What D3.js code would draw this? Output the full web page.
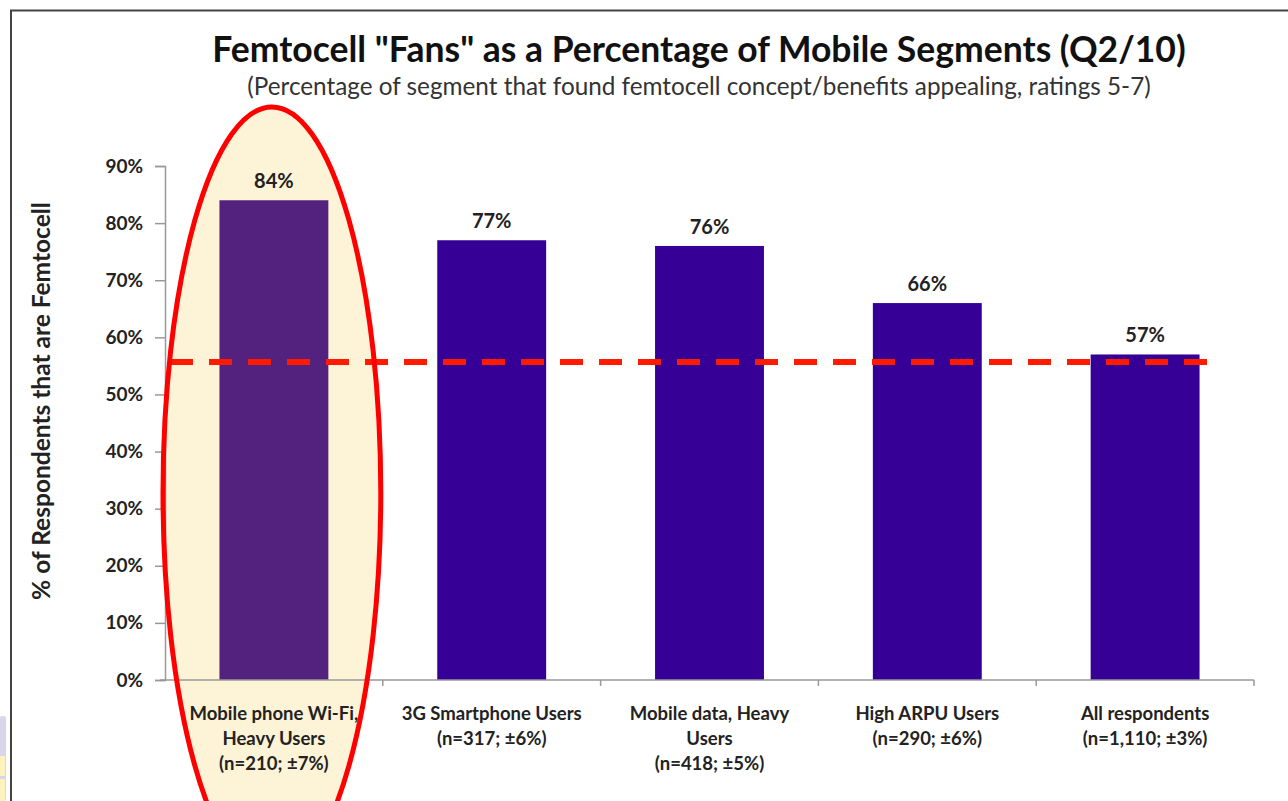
<!DOCTYPE html>
<html>
<head>
<meta charset="utf-8">
<script src="https://cdn.jsdelivr.net/npm/d3@7"></script>
<style>
  html, body { margin: 0; padding: 0; background: #fff; }
  svg { display: block; font-family: Lato, "Open Sans", sans-serif; }
</style>
</head>
<body>
<svg id="chart" width="1288" height="801"></svg>
<script>
// Segments (label lines separated by \n) and share of "fans" in each
const categories = [
  "Mobile phone Wi-Fi,\nHeavy Users\n(n=210; ±7%)",
  "3G Smartphone Users\n(n=317; ±6%)",
  "Mobile data, Heavy\nUsers\n(n=418; ±5%)",
  "High ARPU Users\n(n=290; ±6%)",
  "All respondents\n(n=1,110; ±3%)"
];
const values = [84, 77, 76, 66, 57];
const yTicks = [0, 10, 20, 30, 40, 50, 60, 70, 80, 90];
const referenceLevel = 55.7;       // dashed benchmark line
const highlighted = categories[0]; // circled segment

const svg = d3.select("#chart");

const plot = { left: 165, right: 1254, top: 166, bottom: 680 };

const x = d3.scaleBand()
  .domain(categories)
  .range([plot.left, plot.right])
  .paddingInner(0.5)
  .paddingOuter(0.25);

const y = d3.scaleLinear()
  .domain([0, 90])
  .range([plot.bottom, plot.top]);

// Page frame
svg.append("line").attr("x1", 10).attr("x2", 1288).attr("y1", 10.5).attr("y2", 10.5)
  .attr("stroke", "#444").attr("stroke-width", 2);
svg.append("line").attr("x1", 11).attr("x2", 11).attr("y1", 10).attr("y2", 801)
  .attr("stroke", "#444").attr("stroke-width", 2);

// Slide decoration peeking in at the lower-left edge
svg.append("rect").attr("x", 0).attr("y", 716).attr("width", 6).attr("height", 85)
  .attr("rx", 2).attr("fill", "#d9d5ea");
svg.append("rect").attr("x", 0).attr("y", 756).attr("width", 5).attr("height", 20).attr("fill", "#fff2bf");
svg.append("rect").attr("x", 0).attr("y", 779).attr("width", 5).attr("height", 22).attr("fill", "#fff2bf");

// Highlight ellipse around the first segment
const step = x.step();
const hx = x(highlighted) + x.bandwidth() / 2 - 2;
const hTop = y(100) - 2;
const hRy = 386;
const hRx = step / 2;
svg.append("ellipse")
  .attr("cx", hx).attr("cy", hTop + hRy)
  .attr("rx", hRx).attr("ry", hRy)
  .attr("fill", "#fdf3d6");

// Titles
svg.append("text")
  .attr("x", 699).attr("y", 62)
  .attr("text-anchor", "middle")
  .attr("font-size", 35.5).attr("font-weight", 700).attr("fill", "#111")
  .text('Femtocell "Fans" as a Percentage of Mobile Segments (Q2/10)');
svg.append("text")
  .attr("x", 699).attr("y", 95)
  .attr("text-anchor", "middle")
  .attr("font-size", 24.3).attr("fill", "#333")
  .text("(Percentage of segment that found femtocell concept/benefits appealing, ratings 5-7)");

// Y axis
const yAxis = svg.append("g")
  .attr("transform", `translate(${plot.left},0)`)
  .call(d3.axisLeft(y).tickValues(yTicks).tickFormat(d => d + "%").tickSize(10).tickPadding(12));
yAxis.select(".domain").attr("stroke", "#999").attr("stroke-width", 1.5);
yAxis.selectAll(".tick line").attr("stroke", "#999").attr("stroke-width", 1.5);
yAxis.selectAll(".tick text")
  .attr("font-family", "Lato, sans-serif")
  .attr("font-size", 19).attr("font-weight", 700).attr("fill", "#222");

svg.append("text")
  .attr("transform", `translate(50,401) rotate(-90)`)
  .attr("text-anchor", "middle")
  .attr("font-size", 24.5).attr("font-weight", 700).attr("fill", "#222")
  .text("% of Respondents that are Femtocell");

// Bars
svg.append("g").selectAll("rect")
  .data(values)
  .join("rect")
  .attr("x", (d, i) => x(categories[i]))
  .attr("y", d => y(d))
  .attr("width", x.bandwidth())
  .attr("height", d => y(0) - y(d))
  .attr("fill", (d, i) => categories[i] === highlighted ? "#53217e" : "#360096");

// Value labels
svg.append("g").selectAll("text")
  .data(values)
  .join("text")
  .attr("x", (d, i) => x(categories[i]) + x.bandwidth() / 2)
  .attr("y", d => y(d) - 12)
  .attr("text-anchor", "middle")
  .attr("font-size", 20).attr("font-weight", 700).attr("fill", "#222")
  .text(d => d + "%");

// X axis with ticks on the category boundaries
const xAxisG = svg.append("g").attr("transform", `translate(0,${plot.bottom})`);
xAxisG.append("line")
  .attr("x1", plot.left - 5).attr("x2", plot.right)
  .attr("stroke", "#999").attr("stroke-width", 1.5);
const boundaries = categories.map((c, i) => x(c) + x.bandwidth() + x.step() * x.paddingInner() / 2);
xAxisG.selectAll(".bt")
  .data(boundaries)
  .join("line")
  .attr("x1", d => d).attr("x2", d => d)
  .attr("y1", 0).attr("y2", 6)
  .attr("stroke", "#999").attr("stroke-width", 1.5);

// Category labels
const catLabels = svg.append("g").selectAll("text")
  .data(categories)
  .join("text")
  .attr("x", d => x(d) + x.bandwidth() / 2)
  .attr("y", 720)
  .attr("text-anchor", "middle")
  .attr("font-size", 18.5).attr("font-weight", 700).attr("fill", "#222");
catLabels.selectAll("tspan")
  .data(d => d.split("\n"))
  .join("tspan")
  .attr("x", function () { return d3.select(this.parentNode).attr("x"); })
  .attr("dy", (d, i) => i === 0 ? 0 : 25)
  .text(d => d);

// Benchmark line
svg.append("line")
  .attr("x1", hx - hRx + 7).attr("x2", x(categories[categories.length - 1]) + x.bandwidth() + 18)
  .attr("y1", y(referenceLevel)).attr("y2", y(referenceLevel))
  .attr("stroke", "#ff1a00").attr("stroke-width", 6)
  .attr("stroke-dasharray", "23,16");

// Ellipse outline on top
svg.append("ellipse")
  .attr("cx", hx).attr("cy", hTop + hRy)
  .attr("rx", hRx).attr("ry", hRy)
  .attr("fill", "none").attr("stroke", "#ff0000").attr("stroke-width", 5);
</script>
</body>
</html>
